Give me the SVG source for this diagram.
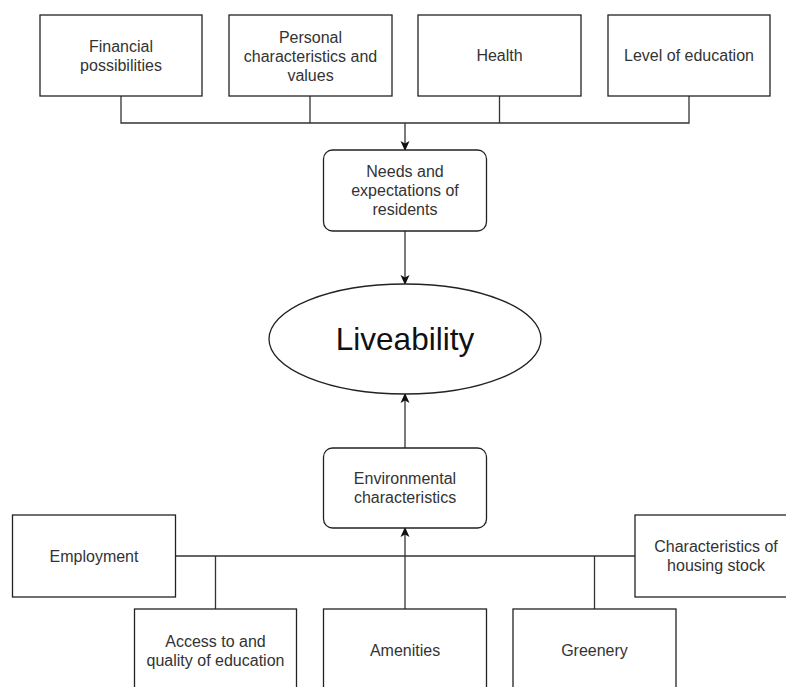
<svg xmlns="http://www.w3.org/2000/svg" width="786" height="687" viewBox="0 0 786 687">
<defs>
<marker id="arr" viewBox="0 0 10 10" refX="9" refY="5" markerWidth="10" markerHeight="10" markerUnits="userSpaceOnUse" orient="auto">
<path d="M0,0.5 L10,5 L0,9.5 L2.5,5 Z" fill="#111"/>
</marker>
<style>
.box{fill:#fff;stroke:#222;stroke-width:1.3}
.t{font-family:"Liberation Sans",Arial,sans-serif;font-size:16px;fill:#333;text-anchor:middle}
.big{font-family:"Liberation Sans",Arial,sans-serif;font-size:31.5px;fill:#111;text-anchor:middle}
.ln{fill:none;stroke:#333;stroke-width:1.3}
</style>
</defs>
<rect width="786" height="687" fill="#fff"/>
<g id="connectors">
<path class="ln" d="M121,96 V123 H689 V96"/>
<path class="ln" d="M310,96 V123"/>
<path class="ln" d="M499.5,96 V123"/>
<path class="ln" d="M405,123 V150" marker-end="url(#arr)"/>
<path class="ln" d="M405,231 V284" marker-end="url(#arr)"/>
<path class="ln" d="M405,448 V394" marker-end="url(#arr)"/>
<path class="ln" d="M175,556 H635"/>
<path class="ln" d="M215.5,556 V609"/>
<path class="ln" d="M594.5,556 V609"/>
<path class="ln" d="M405,609 V528" marker-end="url(#arr)"/>
</g>
<g id="financial">
<rect class="box" x="40" y="15" width="162" height="81"/>
<text class="t" x="121" y="52">Financial</text>
<text class="t" x="121" y="71">possibilities</text>
</g>
<g id="personal">
<rect class="box" x="229" y="15" width="163" height="81"/>
<text class="t" x="310.5" y="42.5">Personal</text>
<text class="t" x="310.5" y="61.5">characteristics and</text>
<text class="t" x="310.5" y="80.5">values</text>
</g>
<g id="health">
<rect class="box" x="418" y="15" width="163" height="81"/>
<text class="t" x="499.5" y="61">Health</text>
</g>
<g id="education-level">
<rect class="box" x="608" y="15" width="162" height="81"/>
<text class="t" x="689" y="61">Level of education</text>
</g>
<g id="needs">
<rect class="box" x="323.5" y="150" width="163" height="81" rx="9"/>
<text class="t" x="405" y="177">Needs and</text>
<text class="t" x="405" y="196">expectations of</text>
<text class="t" x="405" y="215">residents</text>
</g>
<g id="liveability">
<ellipse class="box" cx="405" cy="339" rx="136" ry="55"/>
<text class="big" x="405" y="350">Liveability</text>
</g>
<g id="environmental">
<rect class="box" x="323.5" y="448" width="163" height="80" rx="9"/>
<text class="t" x="405" y="484">Environmental</text>
<text class="t" x="405" y="503">characteristics</text>
</g>
<g id="employment">
<rect class="box" x="12.5" y="515" width="163" height="82"/>
<text class="t" x="94" y="562">Employment</text>
</g>
<g id="housing">
<rect class="box" x="635" y="515" width="163" height="82"/>
<text class="t" x="716" y="552">Characteristics of</text>
<text class="t" x="716" y="571">housing stock</text>
</g>
<g id="access">
<rect class="box" x="134.5" y="609" width="162" height="82"/>
<text class="t" x="215.5" y="647">Access to and</text>
<text class="t" x="215.5" y="666">quality of education</text>
</g>
<g id="amenities">
<rect class="box" x="323.5" y="609" width="163" height="82"/>
<text class="t" x="405" y="656">Amenities</text>
</g>
<g id="greenery">
<rect class="box" x="513" y="609" width="163" height="82"/>
<text class="t" x="594.5" y="656">Greenery</text>
</g>
</svg>
